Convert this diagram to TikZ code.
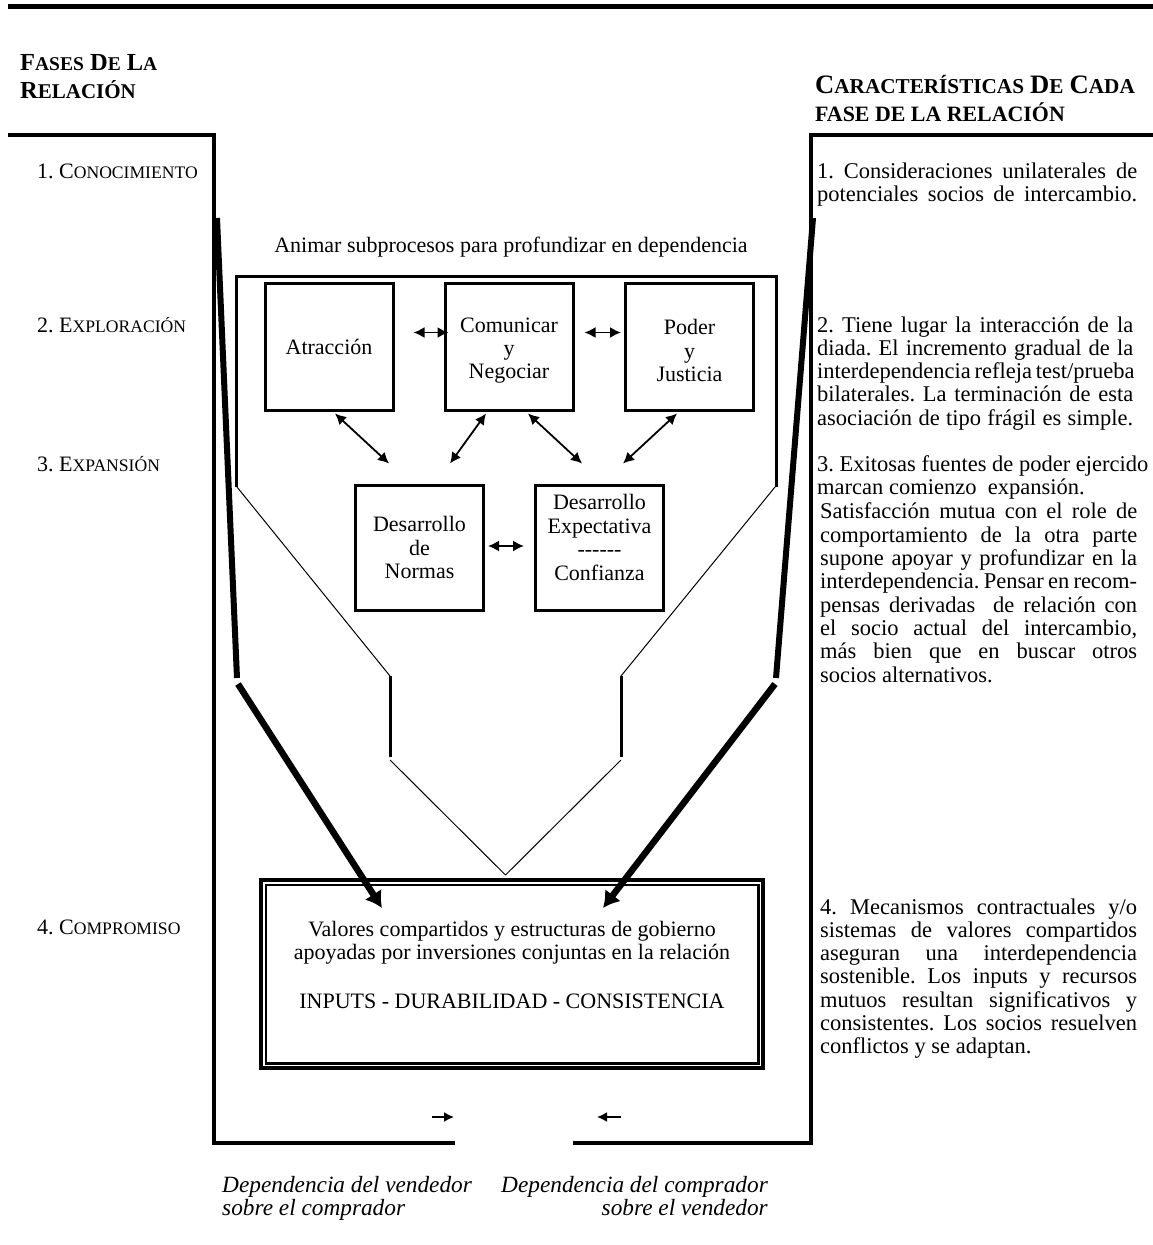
\documentclass[tikz,border=0pt]{standalone}
\usepackage{fontspec}
\setmainfont{Liberation Serif}
\usetikzlibrary{arrows.meta}
\frenchspacing
\newcommand\bodyfont{\fontsize{22}{23.4}\selectfont}
\newcommand\colfont{\fontsize{22.5}{23.3}\selectfont}
\newcommand\capbig[1]{{\fontsize{24.5}{28}\selectfont #1}}
\newcommand\capsmall[1]{{\fontsize{19.5}{28}\selectfont #1}}
\newcommand\rcapbig[1]{{\fontsize{26.6}{28}\selectfont #1}}
\newcommand\rcapsmall[1]{{\fontsize{21.2}{28}\selectfont #1}}
\newcommand\lblsmall[1]{{\fontsize{17.6}{23.4}\selectfont #1}}
\newlength\colw \setlength\colw{320pt}
\newlength\colwa \setlength\colwa{316pt}
\newlength\colwb \setlength\colwb{317pt}
\newcommand\jline[1]{\makebox[\colw][s]{#1}}
\newcommand\jlinea[1]{\makebox[\colwa][s]{#1}}
\newcommand\jlineb[1]{\makebox[\colwb][s]{#1}}

\begin{document}
\begin{tikzpicture}[x=1pt,y=-1pt,
  every node/.style={inner sep=0pt, font=\bodyfont},
  rule/.style={line width=4.5pt},
  framebar/.style={line width=3pt},
  procbox/.style={draw, line width=3pt, minimum width=128pt, minimum height=127pt, align=center},
  linkarrow/.style={line width=1.8pt, {Latex[length=11pt,width=11pt]}-{Latex[length=11pt,width=11pt]}},
  flowthin/.style={line width=1pt},
  flowstep/.style={line width=3pt},
  thickflow/.style={line width=6pt},
  thickhead/.style={line width=6.5pt, -{Latex[length=16pt,width=20pt]}},
  smallarrow/.style={line width=1.8pt, -{Latex[length=10pt,width=10pt]}},
  headtext/.style={anchor=base west, align=left, font=\bfseries\fontsize{24.5}{28}\selectfont},
  coltext/.style={anchor=base west, align=left, font=\colfont},
  phase/.style={anchor=base west},
]
\useasboundingbox (0,0) rectangle (1153,1245);

% top rule and the two brackets
\draw[line width=5pt] (8,6) -- (1153,6);
\draw[rule] (8,135) -- (214,135) -- (214,1143) -- (455,1143);
\draw[rule] (1153,135) -- (811,135) -- (811,1143) -- (573,1143);

% headings (the base anchor sits on the last line)
\node[headtext] (hleft) at (20,98)
  {\capbig{F}\capsmall{ASES} \capbig{D}\capsmall{E} \capbig{L}\capsmall{A}\\\capbig{R}{\fontsize{21}{28}\selectfont ELACIÓN}};
\node[headtext] (hright) at (815,121)
  {\rcapbig{C}\rcapsmall{ARACTERÍSTICAS} \rcapbig{D}\rcapsmall{E} \rcapbig{C}\rcapsmall{ADA}\\{\fontsize{21.9}{28}\selectfont FASE DE LA RELACIÓN}};

% phase labels
\node[phase] (ph1) at (37,178) {1. C\lblsmall{ONOCIMIENTO}};
\node[phase] (ph2) at (37,332) {2. E\lblsmall{XPLORACIÓN}};
\node[phase] (ph3) at (37,471) {3. E\lblsmall{XPANSIÓN}};
\node[phase] (ph4) at (37,934) {4. C\lblsmall{OMPROMISO}};

% characteristics of each phase
\node[coltext] (c1) at (817,201.3)
  {\jline{1. Consideraciones unilaterales de}\\
   \jline{potenciales socios de intercambio.}};
\node[coltext] (c2) at (817,425.2)
  {\jlinea{2. Tiene lugar la interacción de la}\\
   \jlinea{diada. El incremento gradual de la}\\
   \jlinea{interdependencia refleja test/prueba}\\
   \jlinea{bilaterales. La terminación de esta}\\
   \jlinea{asociación de tipo frágil es simple.}};
\node[coltext] (c3) at (817,494.3)
  {3. Exitosas fuentes de poder ejercido\\marcan comienzo~ expansión.};
\node[coltext] (c3b) at (820,682)
  {\jlineb{Satisfacción mutua con el role de}\\
   \jlineb{comportamiento de la otra parte}\\
   \jlineb{supone apoyar y profundizar en la}\\
   \jlineb{interdependencia. Pensar en recom-}\\
   \jlineb{pensas derivadas~ de relación con}\\
   \jlineb{el socio actual del intercambio,}\\
   \jlineb{más bien que en buscar otros}\\
   socios alternativos.};
\node[coltext] (c4) at (820,1053.8)
  {\jlineb{4. Mecanismos contractuales y/o}\\
   \jlineb{sistemas de valores compartidos}\\
   \jlineb{aseguran una interdependencia}\\
   \jlineb{sostenible. Los inputs y recursos}\\
   \jlineb{mutuos resultan significativos y}\\
   \jlineb{consistentes. Los socios resuelven}\\
   conflictos y se adaptan.};

% subprocess frame and funnel
\node[anchor=base] (anim) at (511,252) {Animar subprocesos para profundizar en dependencia};
\draw[framebar] (236,487) -- (236,276) -- (776,276) -- (776,487);
\draw[flowthin] (237,487) -- (390,676);
\draw[flowstep] (390,676) -- (390,757);
\draw[flowthin] (390,760) -- (505.5,875);
\draw[flowthin] (775,487) -- (621,676);
\draw[flowstep] (621,676) -- (621,757);
\draw[flowthin] (621,760) -- (505.5,875);

% subprocess boxes
\node[procbox] (atr) at (329,346.5) {Atracción};
\node[procbox] (com) at (509,346.5) {};
\node[procbox] (pod) at (689.5,346.5) {};
\node[procbox, minimum height=125pt] (nor) at (419.5,547.5) {Desarrollo\\de\\Normas};
\node[procbox, minimum height=125pt] (exp) at (599.5,547.5) {};
\node[align=center] (comlbl) at ([yshift=-4pt]com.center) {Comunicar\\y\\Negociar};
\node[align=center] (podlbl) at ([yshift=-4pt]pod.center) {Poder\\y\\Justicia};
\node[align=center] (explbl) at ([yshift=10pt]exp.center) {Desarrollo\\Expectativa\\-{}-{}-{}-{}-{}-\\Confianza};

\draw[linkarrow, shorten <=19pt, shorten >=-5pt] ([yshift=14pt]atr.east) -- ([yshift=14pt]com.west);
\draw[linkarrow, shorten <=10pt, shorten >=3pt] ([yshift=14pt]com.east) -- ([yshift=14pt]pod.west);
\draw[linkarrow, shorten <=3pt, shorten >=10pt] ([yshift=1.5pt]nor.east) -- ([yshift=1.5pt]exp.west);
\draw[linkarrow] ([xshift=6pt,yshift=-2pt]atr.south) -- ([xshift=-30.5pt,yshift=20pt]nor.north);
\draw[linkarrow] ([xshift=-23pt,yshift=-2pt]com.south) -- ([xshift=30.5pt,yshift=20pt]nor.north);
\draw[linkarrow] ([xshift=19pt,yshift=-2pt]com.south) -- ([xshift=-17.5pt,yshift=20pt]exp.north);
\draw[linkarrow] ([xshift=-12.5pt,yshift=-2pt]pod.south) -- ([xshift=23.5pt,yshift=20pt]exp.north);

% commitment box
\node[draw, line width=4.5pt, minimum width=502pt, minimum height=188pt] (commit) at (512,974) {};
\draw[line width=2.5pt] ([shift={(7,7)}]commit.north west) rectangle ([shift={(-7,-7)}]commit.south east);
\node[anchor=base, align=center] (vals) at (512,1008)
  {Valores compartidos y estructuras de gobierno\\apoyadas por inversiones conjuntas en la relación\\[25.2pt]INPUTS - DURABILIDAD - CONSISTENCIA};

% thick flows into the commitment box
\coordinate (lt1) at (217,218);
\coordinate (lt2) at (237,678);
\coordinate (lt3) at (238,684);
\coordinate (lt4) at (382,908);
\coordinate (rt1) at (813,218);
\coordinate (rt2) at (776,678);
\coordinate (rt3) at (775,684);
\coordinate (rt4) at (603,908);
\draw[thickflow] (lt1) -- (lt2);
\draw[thickhead] (lt3) -- (lt4);
\draw[thickflow] (rt1) -- (rt2);
\draw[thickhead] (rt3) -- (rt4);

% dependence arrows and captions
\coordinate (da1) at (432,1117);
\coordinate (da2) at (454,1117);
\coordinate (db1) at (621,1117);
\coordinate (db2) at (597,1117);
\draw[smallarrow] (da1) -- (da2);
\draw[smallarrow] (db1) -- (db2);
\node[anchor=base west, align=left, font=\fontsize{23.3}{23.6}\selectfont\itshape] (dv) at (222,1215.6)
  {Dependencia del vendedor\\sobre el comprador};
\node[anchor=base east, align=right, font=\fontsize{23.3}{23.6}\selectfont\itshape] (dc) at (768,1215.6)
  {Dependencia del comprador\\sobre el vendedor};
\end{tikzpicture}
\end{document}
